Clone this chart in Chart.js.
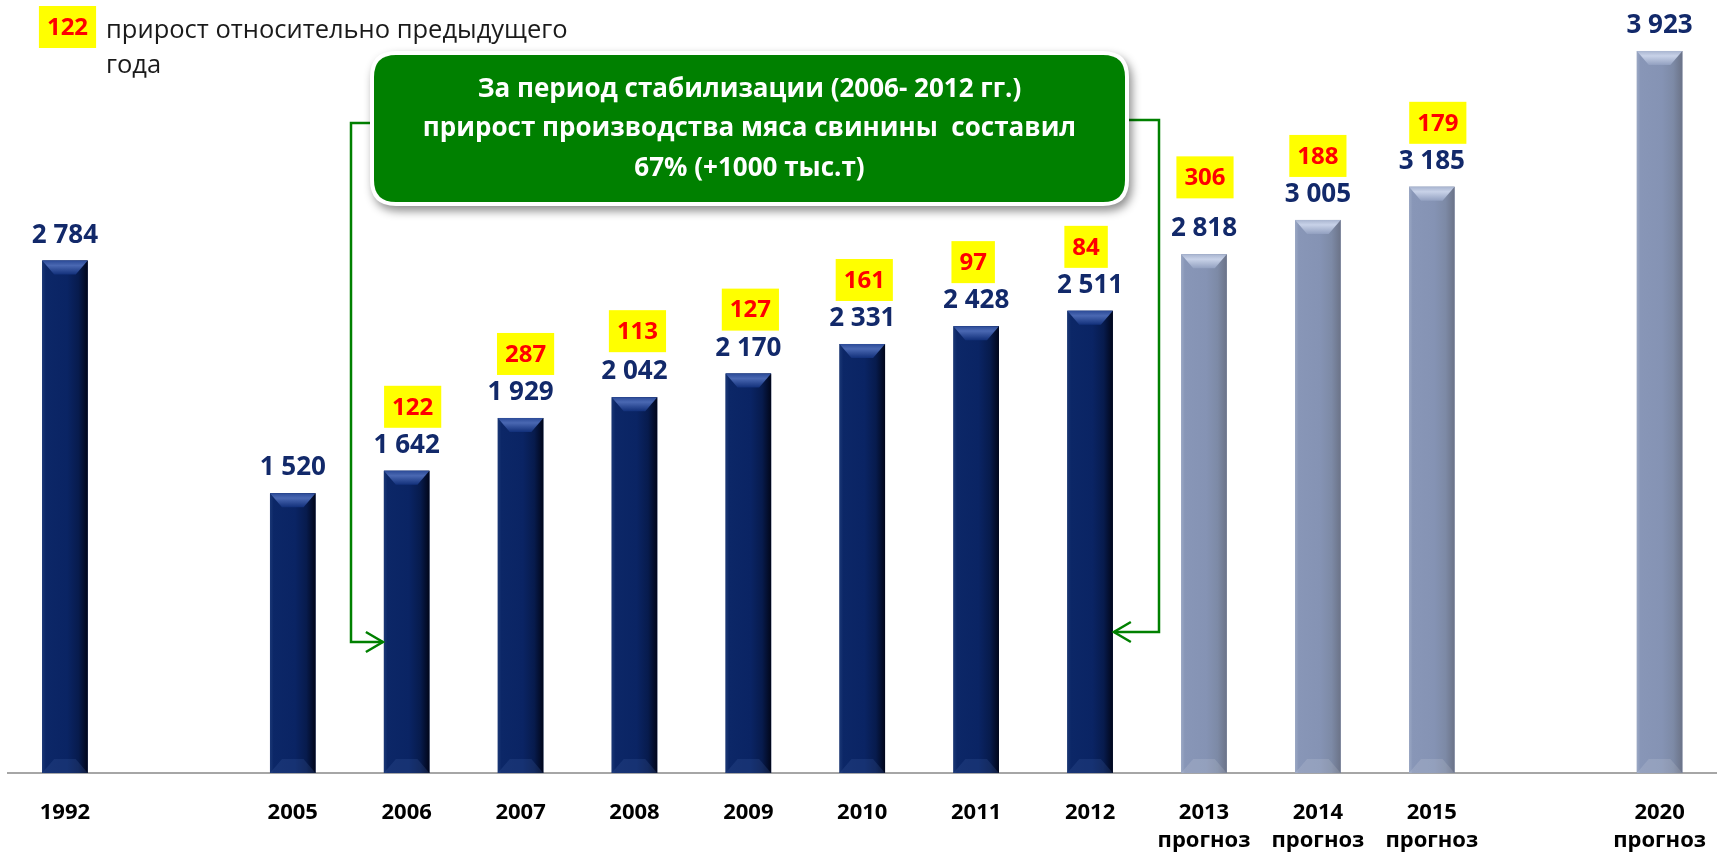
<!DOCTYPE html>
<html>
<head>
<meta charset="utf-8">
<script src="https://cdn.jsdelivr.net/npm/chart.js@4.4.1/dist/chart.umd.min.js"></script>
<style>
  html, body { margin: 0; padding: 0; background: #fff; overflow: hidden; }
  #frame { position: relative; width: 1718px; height: 854px; overflow: hidden; }
  #porkChart { position: absolute; left: 0; top: 0; }
</style>
</head>
<body>
<div id="frame"><canvas id="porkChart" width="1732" height="854"></canvas></div>
<script>
// production of pork, thousand tonnes
const years = ['1992', '', '2005', '2006', '2007', '2008', '2009', '2010', '2011', '2012', '2013', '2014', '2015', '', '2020'];
const actual = [2784, null, 1520, 1642, 1929, 2042, 2170, 2331, 2428, 2511, null, null, null, null, null];
const forecast = [null, null, null, null, null, null, null, null, null, null, 2818, 3005, 3185, null, 3923];
const growth = [null, null, null, 122, 287, 113, 127, 161, 97, 84, 306, 188, 179, null, null];
const forecastWord = 'прогноз';
const legendSample = 122;
const legendNote = ['прирост относительно предыдущего', 'года'];
const calloutLines = ['За период стабилизации (2006- 2012 гг.)', 'прирост производства мяса свинины  составил', '67% (+1000 тыс.т)'];
const rangeFrom = '2006';
const rangeTo = '2012';

// small hand placement of the yellow boxes, as in the slide  [dx, extra lift]
const boxShift = { 2006: [6, 0], 2007: [5, 0], 2008: [3, 2], 2009: [2, 0], 2010: [2, 0], 2011: [-3, 0], 2012: [-4, 0], 2013: [1, 13], 2014: [0, 0], 2015: [6, 0] };

const NUM = "'Open Sans', Lato, sans-serif";
const TXT = "'Open Sans', sans-serif";
const GREEN = '#008000';
const fmt = v => String(v).replace(/\B(?=(\d{3})+(?!\d))/g, ' ');

function rr(ctx, x, y, w, h, r) {
  ctx.beginPath();
  ctx.moveTo(x + r, y);
  ctx.lineTo(x + w - r, y);
  ctx.quadraticCurveTo(x + w, y, x + w, y + r);
  ctx.lineTo(x + w, y + h - r);
  ctx.quadraticCurveTo(x + w, y + h, x + w - r, y + h);
  ctx.lineTo(x + r, y + h);
  ctx.quadraticCurveTo(x, y + h, x, y + h - r);
  ctx.lineTo(x, y + r);
  ctx.quadraticCurveTo(x, y, x + r, y);
  ctx.closePath();
}

function shadeBar(ctx, el, dark) {
  const { x, y, base, width } = el.getProps(['x', 'y', 'base', 'width'], true);
  const l = x - width / 2, r = x + width / 2;
  const g = ctx.createLinearGradient(l, 0, r, 0);
  const stops = dark
    ? [[0, '#1a3775'], [0.08, '#0c2767'], [0.55, '#0a2464'], [0.8, '#071b4d'], [1, '#01061a']]
    : [[0, '#9ba8c4'], [0.08, '#8896b7'], [0.55, '#8593b4'], [0.8, '#7d8aa6'], [1, '#6b7388']];
  stops.forEach(s => g.addColorStop(s[0], s[1]));
  ctx.fillStyle = g;
  ctx.fillRect(l, y, width, base - y);

  const bv = 14, ins = 12;
  const tg = ctx.createLinearGradient(0, y, 0, y + bv);
  if (dark) { tg.addColorStop(0, '#2c4b98'); tg.addColorStop(0.35, '#4a68b2'); tg.addColorStop(1, '#12307a'); }
  else { tg.addColorStop(0, '#a9b5d0'); tg.addColorStop(0.35, '#c8d2e8'); tg.addColorStop(1, '#92a0c0'); }
  ctx.fillStyle = tg;
  ctx.beginPath();
  ctx.moveTo(l, y); ctx.lineTo(r, y); ctx.lineTo(r - ins, y + bv); ctx.lineTo(l + ins, y + bv);
  ctx.closePath(); ctx.fill();

  ctx.fillStyle = dark ? 'rgba(60,90,160,0.25)' : 'rgba(255,255,255,0.12)';
  ctx.beginPath();
  ctx.moveTo(l, base); ctx.lineTo(r, base); ctx.lineTo(r - ins, base - bv); ctx.lineTo(l + ins, base - bv);
  ctx.closePath(); ctx.fill();
}

function yellowBox(ctx, cx, bottom, value) {
  ctx.font = 'bold 24px ' + NUM;
  const w = ctx.measureText(String(value)).width + 16, h = 42;
  ctx.fillStyle = '#ffff00';
  ctx.fillRect(cx - w / 2, bottom - h, w, h);
  ctx.fillStyle = '#ff0000';
  ctx.textAlign = 'center';
  ctx.textBaseline = 'middle';
  ctx.fillText(String(value), cx, bottom - h / 2 + 1);
}

function arrowHead(ctx, tx, ty, dir) {
  ctx.beginPath();
  ctx.moveTo(tx - dir * 17, ty - 10);
  ctx.lineTo(tx, ty);
  ctx.lineTo(tx - dir * 17, ty + 10);
  ctx.stroke();
}

const decor = {
  id: 'decor',
  afterDatasetsDraw(chart) {
    const ctx = chart.ctx;
    ctx.save();
    chart.data.datasets.forEach((ds, di) => {
      chart.getDatasetMeta(di).data.forEach((el, i) => {
        if (ds.data[i] == null) return;
        shadeBar(ctx, el, di === 0);
      });
    });
    chart.data.datasets.forEach((ds, di) => {
      chart.getDatasetMeta(di).data.forEach((el, i) => {
        const v = ds.data[i];
        if (v == null) return;
        ctx.font = 'bold 26px ' + NUM;
        ctx.fillStyle = '#12296a';
        ctx.textAlign = 'center';
        ctx.textBaseline = 'alphabetic';
        ctx.fillText(fmt(v), el.x, el.y - 18);
        if (growth[i] != null) {
          const sh = boxShift[years[i]] || [0, 0];
          yellowBox(ctx, el.x + sh[0], el.y - 43 - sh[1], growth[i]);
        }
      });
    });
    ctx.restore();
  },
  afterDraw(chart) {
    const ctx = chart.ctx;
    ctx.save();
    // legend note
    yellowBox(ctx, 67.5, 48, legendSample);
    ctx.font = '25.5px ' + TXT;
    ctx.fillStyle = '#1a1a1a';
    ctx.textAlign = 'left';
    ctx.textBaseline = 'alphabetic';
    ctx.fillText(legendNote[0], 106, 38);
    ctx.fillText(legendNote[1], 106, 73);

    // connectors to the 2006 and 2012 bars
    const meta = chart.getDatasetMeta(0);
    const a = meta.data[years.indexOf(rangeFrom)];
    const b = meta.data[years.indexOf(rangeTo)];
    const aL = a.x - a.width / 2, bR = b.x + b.width / 2;
    ctx.strokeStyle = GREEN;
    ctx.lineWidth = 2.5;
    ctx.beginPath();
    ctx.moveTo(376, 123); ctx.lineTo(351, 123); ctx.lineTo(351, 642); ctx.lineTo(aL - 1, 642);
    ctx.stroke();
    arrowHead(ctx, aL - 1, 642, 1);
    ctx.beginPath();
    ctx.moveTo(1123, 120); ctx.lineTo(1159, 120); ctx.lineTo(1159, 632); ctx.lineTo(bR + 1, 632);
    ctx.stroke();
    arrowHead(ctx, bR + 1, 632, -1);

    // callout
    ctx.save();
    ctx.shadowColor = 'rgba(0,0,0,0.45)';
    ctx.shadowBlur = 10;
    ctx.shadowOffsetX = 3;
    ctx.shadowOffsetY = 5;
    ctx.fillStyle = '#ffffff';
    rr(ctx, 370, 51, 759, 155, 26);
    ctx.fill();
    ctx.restore();
    ctx.fillStyle = GREEN;
    rr(ctx, 374, 55, 751, 147, 22);
    ctx.fill();
    ctx.fillStyle = '#ffffff';
    ctx.font = 'bold 26px ' + TXT;
    ctx.textAlign = 'center';
    ctx.textBaseline = 'middle';
    const ys = [90, 129, 169];
    calloutLines.forEach((t, k) => ctx.fillText(t, 749.5, ys[k]));
    ctx.restore();
  }
};

const labels = years.map((y, i) => forecast[i] != null ? [y, forecastWord] : y);

new Chart('porkChart', {
  type: 'bar',
  data: {
    labels: labels,
    datasets: [
      { label: 'факт', data: actual, backgroundColor: '#0a2464', barPercentage: 0.4, categoryPercentage: 1 },
      { label: 'прогноз', data: forecast, backgroundColor: '#8593b4', barPercentage: 0.4, categoryPercentage: 1 }
    ]
  },
  options: {
    responsive: false,
    animation: false,
    events: [],
    layout: { padding: { left: 8, right: 0, top: 0, bottom: 0 } },
    plugins: { legend: { display: false }, tooltip: { enabled: false } },
    scales: {
      x: {
        stacked: true,
        grid: { display: false, drawTicks: false },
        border: { display: true, color: '#a6a6a6', width: 2 },
        ticks: {
          autoSkip: false,
          maxRotation: 0,
          padding: 26,
          color: '#000000',
          font: { family: NUM, size: 22, weight: 'bold', lineHeight: 1.25 }
        },
        afterFit(scale) { scale.height = 81; }
      },
      y: { stacked: true, display: false, min: 0, max: 4200 }
    }
  },
  plugins: [decor]
});
</script>
</body>
</html>
